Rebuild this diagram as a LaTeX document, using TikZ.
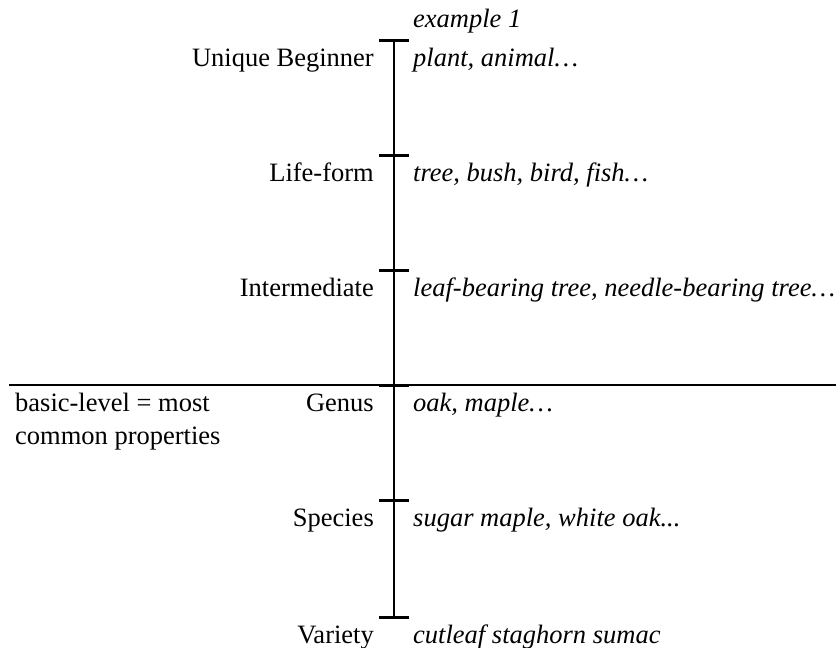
\documentclass[tikz,border=0pt]{standalone}
\usepackage{fontspec}
\setmainfont{Liberation Serif}
\begin{document}
\begin{tikzpicture}[x=1pt,y=-1pt,
  lbl/.style={anchor=base east,inner sep=0pt,font=\fontsize{26.5}{32}\selectfont},
  ex/.style={anchor=base west,inner sep=0pt,font=\fontsize{26.5}{32}\selectfont\itshape},
  note/.style={anchor=base west,inner sep=0pt,font=\fontsize{26.5}{32}\selectfont},
  tick/.style={line width=3pt},
  axis/.style={line width=2pt}]
\useasboundingbox (0,0) rectangle (836,648);
% tick coordinates
\foreach \n/\y in {t1/40,t2/155,t3/270,t4/385,t5/500,t6/617}{
  \coordinate (\n) at (394,\y);
  \coordinate (\n l) at (379,\y);
  \coordinate (\n r) at (409,\y);
}
\draw[axis] (t1) -- (t6);
\foreach \n in {t1,t2,t3,t4,t5,t6}{ \draw[tick] (\n l) -- (\n r); }
% basic-level line
\coordinate (bl) at (9,385);
\coordinate (br) at (836,385);
\draw[axis] (bl) -- (br);
% labels
\node[ex] (exa) at (413,27) {example 1};
\node[lbl] (l1) at (374,66) {Unique Beginner};
\node[ex]  (r1) at (413,66) {plant, animal…};
\node[lbl] (l2) at (374,181) {Life-form};
\node[ex]  (r2) at (413,181) {tree, bush, bird, fish…};
\node[lbl] (l3) at (374,296) {Intermediate};
\node[ex]  (r3) at (413,296) {leaf-bearing tree, needle-bearing tree…};
\node[lbl] (l4) at (374,411) {Genus};
\node[ex]  (r4) at (413,411) {oak, maple…};
\node[lbl] (l5) at (374,526) {Species};
\node[ex]  (r5) at (413,526) {sugar maple, white oak...};
\node[lbl] (l6) at (374,643) {Variety};
\node[ex]  (r6) at (413,643) {cutleaf staghorn sumac};
\node[note] (bas) at (15,411) {basic-level = most};
\node[note] (com) at (15,444) {common properties};
\end{tikzpicture}
\end{document}
